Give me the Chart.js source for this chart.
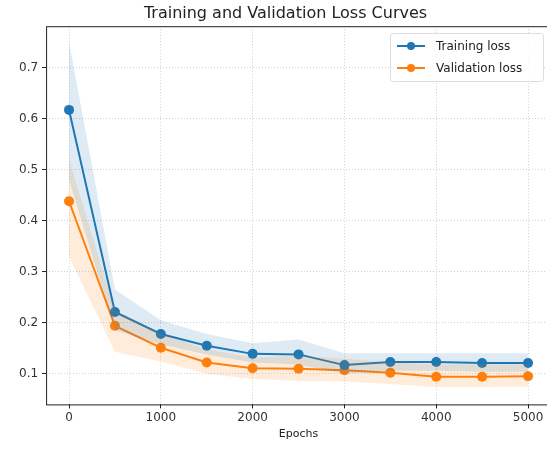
<!DOCTYPE html>
<html>
<head>
<meta charset="utf-8">
<script src="https://cdn.jsdelivr.net/npm/chart.js@4/dist/chart.umd.min.js"></script>
<style>
  html, body { margin: 0; padding: 0; background: #fff; overflow: hidden; }
  canvas { display: block; }
</style>
</head>
<body>
<canvas id="lossChart" width="556" height="449"></canvas>
<script>
const epochs = [0, 500, 1000, 1500, 2000, 2500, 3000, 3500, 4000, 4500, 5000];
const trainLoss = [0.617, 0.221, 0.178, 0.155, 0.139, 0.138, 0.117, 0.123, 0.123, 0.121, 0.121];
const trainUpper = [0.75, 0.265, 0.205, 0.178, 0.16, 0.167, 0.14, 0.14, 0.14, 0.14, 0.14];
const trainLower = [0.48, 0.185, 0.158, 0.138, 0.122, 0.118, 0.1, 0.106, 0.106, 0.104, 0.104];
const valLoss = [0.438, 0.194, 0.151, 0.122, 0.111, 0.11, 0.107, 0.102, 0.094, 0.094, 0.095];
const valUpper = [0.52, 0.225, 0.178, 0.148, 0.132, 0.135, 0.13, 0.122, 0.118, 0.118, 0.118];
const valLower = [0.33, 0.143, 0.124, 0.1, 0.09, 0.086, 0.085, 0.08, 0.074, 0.074, 0.075];
const xTicks = [0, 1000, 2000, 3000, 4000, 5000];
const yTicks = [0.1, 0.2, 0.3, 0.4, 0.5, 0.6, 0.7];

const blue = "#1f77b4";
const orange = "#ff7f0e";

const pts = (ys) => epochs.map((x, i) => ({ x: x, y: ys[i] }));

const bandSet = (ys, color, fill) => ({
  data: pts(ys),
  borderWidth: 0,
  pointRadius: 0,
  backgroundColor: color,
  fill: fill,
  tension: 0,
});

// frame + legend drawn like matplotlib
const framePlugin = {
  id: "frame",
  afterDraw(chart) {
    const { ctx, chartArea: a } = chart;
    ctx.save();
    ctx.strokeStyle = "#222";
    ctx.lineWidth = 1;
    ctx.strokeRect(a.left + 0.5, a.top + 0.5, a.right - a.left, a.bottom - a.top);

    // legend box
    const bx = 390, by = 33, bw = 153, bh = 48;
    ctx.fillStyle = "rgba(255,255,255,0.85)";
    ctx.strokeStyle = "#ddd";
    ctx.beginPath();
    ctx.roundRect(bx + 0.5, by + 0.5, bw, bh, 3);
    ctx.fill();
    ctx.stroke();
    const items = [["Training loss", blue], ["Validation loss", orange]];
    items.forEach((it, i) => {
      const y = by + 13 + i * 22;
      ctx.strokeStyle = it[1];
      ctx.lineWidth = 2;
      ctx.beginPath();
      ctx.moveTo(bx + 7, y);
      ctx.lineTo(bx + 35, y);
      ctx.stroke();
      ctx.fillStyle = it[1];
      ctx.beginPath();
      ctx.arc(bx + 21, y, 4, 0, Math.PI * 2);
      ctx.fill();
      ctx.fillStyle = "#222";
      ctx.font = "12px 'DejaVu Sans'";
      ctx.textBaseline = "middle";
      ctx.fillText(it[0], bx + 46, y + 1);
    });
    ctx.restore();
  },
};

const gridOpts = { color: "#d0d0d0", tickLength: 4, tickColor: "#222", tickBorderDash: [] };

const chart = new Chart(document.getElementById("lossChart"), {
  type: "line",
  data: {
    datasets: [
      bandSet(trainUpper, "rgba(31,119,180,0.15)", "+1"),
      bandSet(trainLower, "rgba(31,119,180,0.15)", false),
      bandSet(valUpper, "rgba(255,127,14,0.15)", "+1"),
      bandSet(valLower, "rgba(255,127,14,0.15)", false),
      {
        label: "Training loss",
        data: pts(trainLoss),
        borderColor: blue,
        backgroundColor: blue,
        borderWidth: 2,
        pointRadius: 5,
        pointBorderWidth: 0,
        fill: false,
      },
      {
        label: "Validation loss",
        data: pts(valLoss),
        borderColor: orange,
        backgroundColor: orange,
        borderWidth: 2,
        pointRadius: 5,
        pointBorderWidth: 0,
        fill: false,
      },
    ],
  },
  options: {
    responsive: false,
    devicePixelRatio: 1,
    animation: false,
    layout: { padding: { top: 4, right: 0, bottom: 8, left: 15 } },
    plugins: {
      legend: { display: false },
      tooltip: { enabled: false },
      title: {
        display: true,
        text: "Training and Validation Loss Curves",
        color: "#222",
        font: { family: "DejaVu Sans", size: 16, weight: "normal" },
        padding: { top: 0, bottom: 3 },
      },
    },
    scales: {
      x: {
        type: "linear",
        min: -250,
        max: 5250,
        afterBuildTicks: (s) => { s.ticks = xTicks.map((v) => ({ value: v })); },
        ticks: { color: "#333", font: { family: "DejaVu Sans", size: 12 }, padding: 2, maxRotation: 0, callback: (v) => String(v) },
        grid: gridOpts,
        border: { display: false, dash: [1, 2] },
        title: { display: true, text: "Epochs", color: "#222", font: { family: "DejaVu Sans", size: 11 }, padding: { top: 1, bottom: 0 } },
      },
      y: {
        min: 0.04,
        max: 0.781,
        afterBuildTicks: (s) => { s.ticks = yTicks.map((v) => ({ value: v })); },
        ticks: { color: "#333", font: { family: "DejaVu Sans", size: 12 }, padding: 4, callback: (v) => v.toFixed(1) },
        grid: gridOpts,
        border: { display: false, dash: [1, 2] },
      },
    },
  },
  plugins: [framePlugin],
});
</script>
</body>
</html>
